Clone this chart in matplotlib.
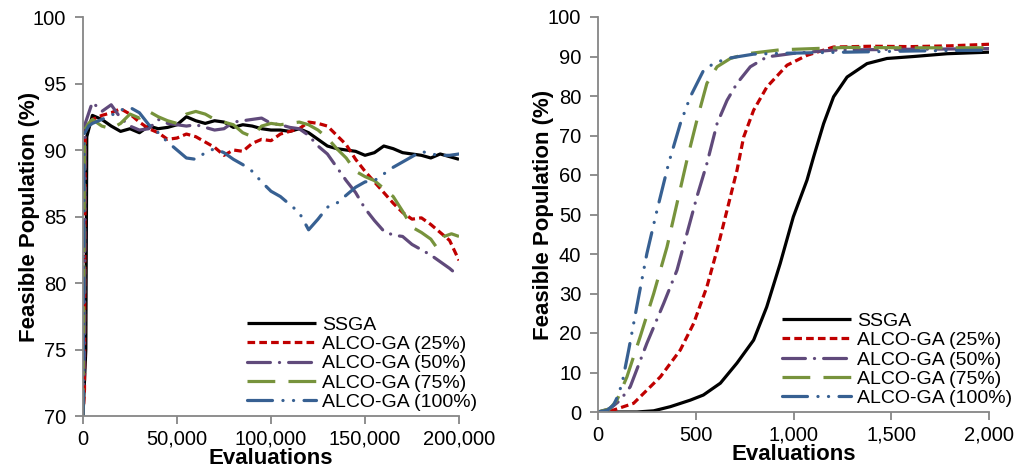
import matplotlib
matplotlib.use("Agg")
import matplotlib.pyplot as plt
from matplotlib.ticker import FuncFormatter, MultipleLocator

plt.rcParams["font.family"] = ["Liberation Sans", "DejaVu Sans"]
plt.rcParams["lines.scale_dashes"] = False

# ---------------- long run (0 - 200,000 evaluations) ----------------
long_ssga_x = [0, 1500, 2000, 5000, 10000, 15000, 20000, 25000, 30000, 35000, 40000,
               45000, 50000, 55000, 60000, 65000, 70000, 75000, 80000, 85000, 90000,
               95000, 100000, 105000, 110000, 115000, 120000, 125000, 130000, 135000,
               140000, 145000, 150000, 155000, 160000, 165000, 170000, 175000, 180000,
               185000, 190000, 195000, 200000]
long_ssga_y = [70, 75, 91.0, 92.6, 92.3, 91.8, 91.4, 91.6, 91.3, 91.8, 91.6,
               91.7, 91.9, 92.5, 92.2, 92.0, 92.2, 92.1, 91.7, 91.9, 91.8,
               91.6, 91.5, 91.5, 91.4, 91.6, 91.3, 90.8, 90.3, 90.1,
               90.0, 89.9, 89.6, 89.8, 90.3, 90.1, 89.8, 89.7, 89.6,
               89.4, 89.7, 89.5, 89.3]

long_x = [0, 800, 1200, 5000, 10000, 15000, 20000, 25000, 30000, 35000, 40000,
          45000, 50000, 55000, 60000, 65000, 70000, 75000, 80000, 85000, 90000,
          95000, 100000, 105000, 110000, 115000, 120000, 125000, 130000, 135000,
          140000, 145000, 150000, 155000, 160000, 165000, 170000, 175000, 180000,
          185000, 190000, 195000, 200000]
long_alco25 = [70, 72, 91.5, 92.3, 92.6, 92.8, 93.1, 92.7, 92.1, 91.6, 91.3,
               90.8, 90.9, 91.2, 91.0, 90.6, 90.2, 89.6, 90.0, 89.9, 90.5,
               90.8, 90.7, 91.2, 91.4, 91.6, 92.1, 92.0, 91.8, 91.1,
               90.4, 89.3, 88.4, 87.6, 86.8, 86.0, 85.3, 84.8, 84.9,
               84.4, 83.8, 83.2, 81.7]
long_alco50 = [70, 75, 92.0, 93.6, 92.9, 93.4, 92.4, 91.8, 91.5, 91.6, 92.3,
               92.0, 91.9, 91.8, 91.9, 91.7, 91.5, 91.6, 92.1, 92.2, 92.3,
               92.4, 92.0, 91.9, 91.7, 91.6, 91.1, 90.3, 89.7, 88.7,
               87.7, 86.8, 85.6, 84.7, 83.9, 83.6, 83.5, 82.9, 82.5,
               82.1, 81.6, 81.1, 80.5]

long_alco75_x = [0, 300, 800, 3000, 5000, 10000, 15000, 20000, 25000, 30000, 35000,
                 40000, 45000, 50000, 55000, 60000, 65000, 70000, 75000, 80000, 85000,
                 90000, 95000, 100000, 105000, 110000, 115000, 120000, 125000, 130000,
                 135000, 140000, 145000, 150000, 155000, 160000, 165000, 170000,
                 175000, 180000, 185000, 188000, 192000, 196000, 200000]
long_alco75_y = [70, 76, 91.5, 92.0, 92.3, 91.8, 91.6, 92.0, 92.7, 92.4, 92.9,
                 92.5, 92.2, 92.0, 92.7, 92.9, 92.7, 92.3, 92.1, 91.9, 91.3,
                 91.0, 91.8, 92.0, 91.9, 92.0, 92.1, 91.9, 91.5, 90.9,
                 90.1, 89.4, 88.4, 88.0, 87.7, 87.1, 86.5, 85.4,
                 84.2, 83.8, 83.3, 82.7, 83.5, 83.7, 83.5]

long_alco100_x = [0, 200, 600, 3000, 5000, 10000, 15000, 20000, 25000, 30000, 35000,
                  40000, 45000, 50000, 55000, 60000, 65000, 70000, 75000, 80000, 85000,
                  90000, 95000, 100000, 105000, 110000, 115000, 120000, 125000, 130000,
                  135000, 140000, 145000, 150000, 155000, 160000, 165000, 170000,
                  175000, 180000, 185000, 190000, 195000, 200000]
long_alco100_y = [70, 72, 91.2, 91.8, 92.0, 92.3, 92.6, 93.0, 93.2, 92.8, 91.9,
                  91.3, 90.6, 90.0, 89.4, 89.3, 89.8, 90.1, 89.8, 89.3, 88.9,
                  88.4, 87.6, 86.9, 86.5, 85.9, 85.3, 84.0, 84.8, 85.7,
                  86.0, 86.6, 87.2, 87.6, 87.7, 88.2, 88.7, 89.1,
                  89.5, 89.9, 89.7, 89.6, 89.6, 89.7]

# ---------------- short run (0 - 2,000 evaluations) ----------------
short_ssga_x = [0, 200, 285, 370, 472, 539, 626, 711, 796, 863, 932, 999, 1069, 1103,
                1154, 1205, 1274, 1376, 1478, 1615, 1785, 2000]
short_ssga_y = [0, 0, 0.3, 1.35, 3.0, 4.3, 7.3, 12.4, 18.2, 26.6, 37.6, 49.4, 58.7, 64.6,
                73.0, 79.8, 84.8, 88.2, 89.5, 90.0, 90.7, 91.1]

short_alco25_x = [0, 80, 182, 319, 421, 489, 557, 609, 660, 711, 745, 796, 864, 967,
                  1069, 1205, 1400, 1600, 1800, 2000]
short_alco25_y = [0, 0.5, 2.2, 8.9, 15.7, 22.4, 31.7, 41.0, 51.1, 61.2, 69.6, 76.4, 82.3, 87.8,
                  90.3, 92.4, 92.6, 92.5, 92.7, 93.1]

short_alco50_x = [0, 60, 114, 165, 250, 336, 404, 455, 506, 557, 609, 660, 711, 779,
                  864, 1001, 1200, 1500, 1800, 2000]
short_alco50_y = [0, 0.8, 3.0, 6.4, 17.4, 27.5, 35.9, 45.2, 54.5, 62.9, 73.0, 78.9, 83.2, 87.4,
                  89.9, 90.8, 91.6, 91.8, 91.9, 92.0]

short_alco75_x = [0, 60, 97, 148, 216, 285, 353, 404, 455, 506, 557, 609, 677, 762,
                  932, 1274, 1600, 2000]
short_alco75_y = [0, 0.8, 3.0, 8.9, 19.1, 30.0, 41.8, 52.8, 63.8, 73.9, 83.2, 87.4, 89.5, 90.7,
                  91.7, 92.3, 92.2, 92.2]

short_alco100_x = [0, 46, 80, 100, 123, 157, 208, 250, 302, 361, 421, 472, 540, 591,
                   660, 796, 932, 1274, 1615, 2000]
short_alco100_y = [0, 0.4, 1.8, 3.9, 7.2, 15.7, 29.2, 40.1, 51.1, 62.9, 73.0, 79.8, 86.5, 88.2,
                   89.5, 90.6, 90.8, 91.1, 91.4, 91.6]

labels = ["SSGA", "ALCO-GA (25%)", "ALCO-GA (50%)", "ALCO-GA (75%)", "ALCO-GA (100%)"]
colors = ["#000000", "#C00000", "#604A7B", "#77933C", "#376092"]
styles = [
    "-",
    (0, (5.5, 3.0)),
    (0, (16.5, 6.5, 0.1, 6.5)),
    (0, (20.0, 9.5)),
    (0, (18.0, 7.5, 0.1, 7.5, 0.1, 7.5)),
]
caps = ["butt", "butt", "round", "butt", "round"]

AXIS_GRAY = "#868686"
TICK_FS = 14.5
LABEL_FS = 16
LEGEND_FS = 14

fig = plt.figure(figsize=(10.19, 4.72), dpi=100)
ax1 = fig.add_axes([83 / 1019, 1 - 416 / 472, 376 / 1019, 399 / 472])
ax2 = fig.add_axes([598 / 1019, 1 - 412 / 472, 391 / 1019, 395 / 472])

long_series = [
    (long_ssga_x, long_ssga_y),
    (long_x, long_alco25),
    (long_x, long_alco50),
    (long_alco75_x, long_alco75_y),
    (long_alco100_x, long_alco100_y),
]
short_series = [
    (short_ssga_x, short_ssga_y),
    (short_alco25_x, short_alco25_y),
    (short_alco50_x, short_alco50_y),
    (short_alco75_x, short_alco75_y),
    (short_alco100_x, short_alco100_y),
]

for ax, series in ((ax1, long_series), (ax2, short_series)):
    for (x, y), lab, c, ls, cap in zip(series, labels, colors, styles, caps):
        ax.plot(x, y, color=c, ls=ls, lw=2.3, label=lab,
                dash_capstyle=cap, solid_capstyle="butt")

comma = FuncFormatter(lambda v, p: f"{v:,.0f}")

ax1.set_xlim(0, 200000)
ax1.set_ylim(70, 100)
ax1.xaxis.set_major_locator(MultipleLocator(50000))
ax1.yaxis.set_major_locator(MultipleLocator(5))

ax2.set_xlim(0, 2000)
ax2.set_ylim(0, 100)
ax2.xaxis.set_major_locator(MultipleLocator(500))
ax2.yaxis.set_major_locator(MultipleLocator(10))

for ax, ylpad, legx in ((ax1, -5, 0.437), (ax2, -4, 0.470)):
    ax.xaxis.set_major_formatter(comma)
    for side in ("top", "right"):
        ax.spines[side].set_visible(False)
    for side in ("left", "bottom"):
        ax.spines[side].set_color(AXIS_GRAY)
        ax.spines[side].set_linewidth(1.3)
    ax.tick_params(direction="out", length=6, width=1.3, color=AXIS_GRAY,
                   labelsize=TICK_FS, labelcolor="black", pad=6)
    ax.tick_params(axis="x", pad=4)
    ax.set_xlabel("Evaluations", fontsize=LABEL_FS, fontweight="bold", labelpad=-1)
    ax.set_ylabel("Feasible Population (%)", fontsize=LABEL_FS, fontweight="bold",
                  labelpad=ylpad)
    ax.legend(loc="lower left", frameon=False, fontsize=LEGEND_FS,
              handlelength=3.55, handletextpad=0.31, labelspacing=0.09,
              borderpad=0, borderaxespad=0,
              bbox_to_anchor=(legx, 0.012))

fig.savefig("out.png", dpi=100)
